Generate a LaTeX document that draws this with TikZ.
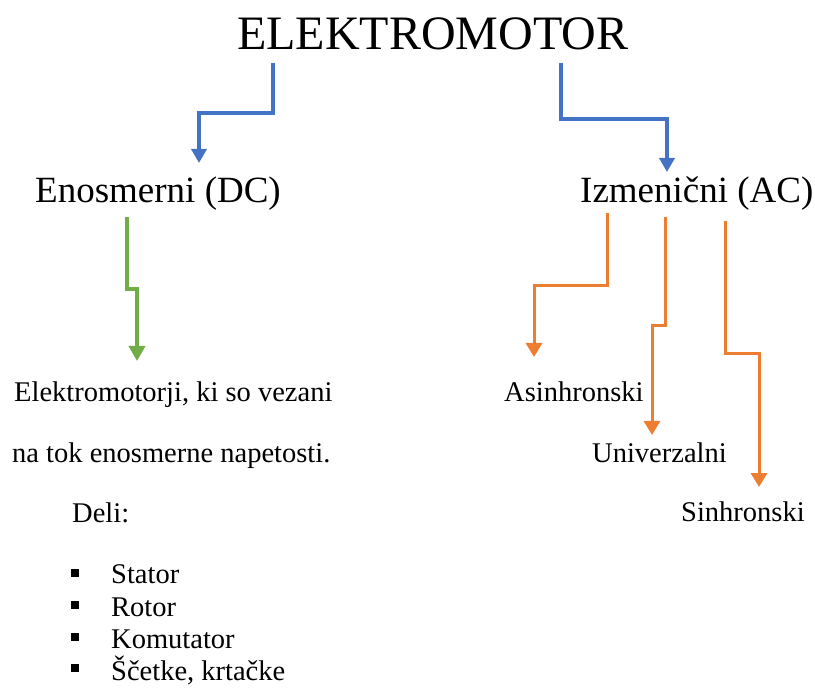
\documentclass[tikz,border=0pt]{standalone}
\usepackage{fontspec}
\setmainfont{Liberation Serif}
\usetikzlibrary{arrows.meta}
\definecolor{ablue}{HTML}{4472C4}
\definecolor{agreen}{HTML}{70AD47}
\definecolor{aorange}{HTML}{ED7D31}
\begin{document}
\begin{tikzpicture}[x=1pt,y=-1pt,
  big/.style={font=\fontsize{48}{50}\selectfont, inner sep=0pt, anchor=base west},
  mid/.style={font=\fontsize{37}{40}\selectfont, inner sep=0pt, anchor=base west},
  txt/.style={font=\fontsize{28.5}{30}\selectfont, inner sep=0pt, anchor=base west},
  bul/.style={fill=black, minimum size=8pt, inner sep=0pt},
  bluearr/.style={draw=ablue, line width=3.5pt, -{Triangle[width=15pt,length=14pt]}},
  greenarr/.style={draw=agreen, line width=3.5pt, -{Triangle[width=16pt,length=15pt]}},
  orangearr/.style={draw=aorange, line width=3pt, -{Triangle[width=16pt,length=14pt]}}]
\useasboundingbox (0,0) rectangle (815,695);

% texts
\node[big] (title) at (237,50) {ELEKTROMOTOR};
\node[mid] (dc) at (35,203) {Enosmerni (DC)};
\node[mid] (ac) at (580,203) {Izmenični (AC)};
\node[txt] (d1) at (14,402) {Elektromotorji, ki so vezani};
\node[txt] (d2) at (12,462) {na tok enosmerne napetosti.};
\node[txt] (deli) at (72,522) {Deli:};
\node[txt] (asin) at (504,402) {Asinhronski};
\node[txt] (univ) at (592,462) {Univerzalni};
\node[txt] (sinh) at (681,521) {Sinhronski};

% bullets
\node[bul] (b1) at (75,573) {};
\node[bul] (b2) at (75,605) {};
\node[bul] (b3) at (75,637) {};
\node[bul] (b4) at (75,668) {};
\node[txt] (l1) at (111,583) {Stator};
\node[txt] (l2) at (111,616) {Rotor};
\node[txt] (l3) at (111,648) {Komutator};
\node[txt] (l4) at (111,680) {Ščetke, krtačke};

% connector endpoints
\coordinate (bs1) at (273,63);  \coordinate (be1) at (199,163);
\coordinate (bs2) at (561,63);  \coordinate (be2) at (667,172);
\coordinate (gs) at (127,217);  \coordinate (ge) at (137,361);
\coordinate (os1) at (607,213); \coordinate (oe1) at (534,357);
\coordinate (os2) at (665,217); \coordinate (oe2) at (652,435);
\coordinate (os3) at (725,221); \coordinate (oe3) at (759,487);

% connectors
\draw[bluearr] (bs1) -- (bs1 |- 0,113) -- (be1 |- 0,113) -- (be1);
\draw[bluearr] (bs2) -- (bs2 |- 0,119) -- (be2 |- 0,119) -- (be2);
\draw[greenarr] (gs) -- (gs |- 0,289) -- (ge |- 0,289) -- (ge);
\draw[orangearr] (os1) -- (os1 |- 0,286) -- (oe1 |- 0,286) -- (oe1);
\draw[orangearr] (os2) -- (os2 |- 0,326) -- (oe2 |- 0,326) -- (oe2);
\draw[orangearr] (os3) -- (os3 |- 0,354) -- (oe3 |- 0,354) -- (oe3);
\end{tikzpicture}
\end{document}
